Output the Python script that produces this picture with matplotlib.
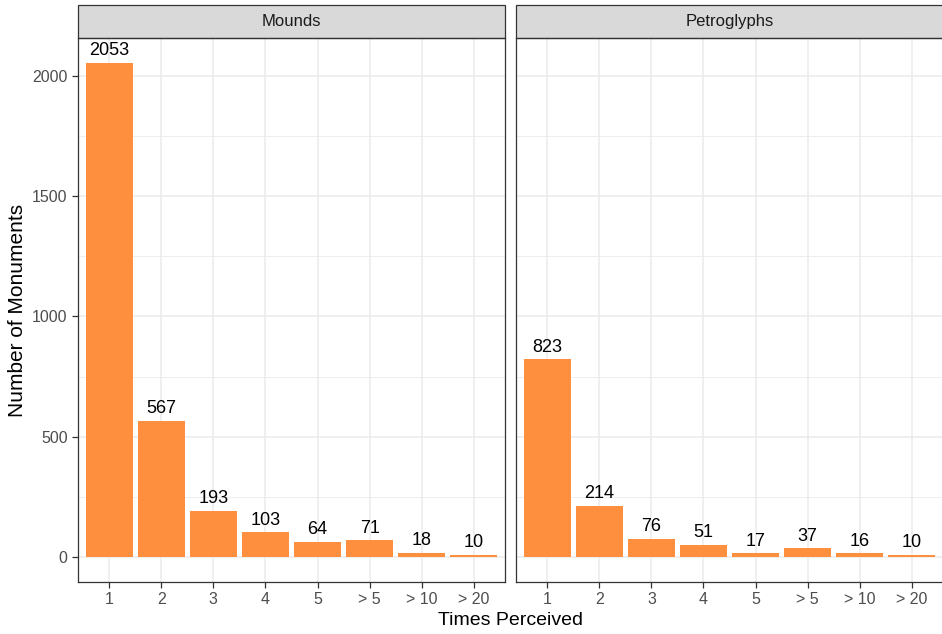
import matplotlib.pyplot as plt
from matplotlib.patches import Rectangle
from matplotlib.ticker import MultipleLocator
import numpy as np

plt.rcParams['font.family'] = ['Liberation Sans', 'DejaVu Sans']

# data
categories = ["1", "2", "3", "4", "5", "> 5", "> 10", "> 20"]
mounds = [2053, 567, 193, 103, 64, 71, 18, 10]
petroglyphs = [823, 214, 76, 51, 17, 37, 16, 10]
panels = ["Mounds", "Petroglyphs"]

bar_col = "#FD8F3E"
grid_col = "#EBEBEB"
border_col = "#333333"

fig = plt.figure(figsize=(9.42, 6.34), dpi=100)
ax1 = fig.add_axes([0.0828, 0.082, 0.4533, 0.858])
ax2 = fig.add_axes([0.5478, 0.082, 0.4533, 0.858], sharey=ax1)

x = np.arange(1, len(categories) + 1)
for ax, vals, title in zip([ax1, ax2], [mounds, petroglyphs], panels):
    ax.bar(x, vals, width=0.9, color=bar_col, zorder=3)
    for xi, v in zip(x, vals):
        ax.annotate(str(v), (xi, v), xytext=(0, 2.5), textcoords="offset points",
                    ha="center", va="bottom", fontsize=13, color="black")
    ax.set_xlim(0.4, 8.6)
    ax.set_xticks(x)
    ax.set_xticklabels(categories)
    ax.yaxis.set_major_locator(MultipleLocator(500))
    ax.yaxis.set_minor_locator(MultipleLocator(250))
    ax.grid(which="major", color=grid_col, lw=1.1, zorder=0)
    ax.grid(which="minor", axis="y", color=grid_col, lw=0.6, zorder=0)
    ax.set_axisbelow(True)
    for s in ax.spines.values():
        s.set_color(border_col)
        s.set_linewidth(0.9)
    ax.tick_params(axis="both", which="major", colors=border_col, length=4,
                   width=0.9, labelsize=11.5, labelcolor="#4D4D4D")
    ax.tick_params(axis="y", which="minor", length=0)
    # facet strip
    ax.add_patch(Rectangle((0, 1.0), 1, 0.0615, transform=ax.transAxes,
                           facecolor="#D9D9D9", edgecolor=border_col, lw=0.9,
                           clip_on=False))
    ax.text(0.5, 1.031, title, transform=ax.transAxes, ha="center",
            va="center", fontsize=12, color="#1A1A1A")

ax1.set_ylim(-103, 2156)
plt.setp(ax2.get_yticklabels(), visible=False)
ax2.tick_params(axis="y", which="major", length=0)

fig.text(0.542, 0.021, "Times Perceived", ha="center", va="center", fontsize=14)
fig.text(0.019, 0.51, "Number of Monuments", ha="center", va="center",
         rotation=90, fontsize=15)

fig.savefig("out.png", dpi=100)
